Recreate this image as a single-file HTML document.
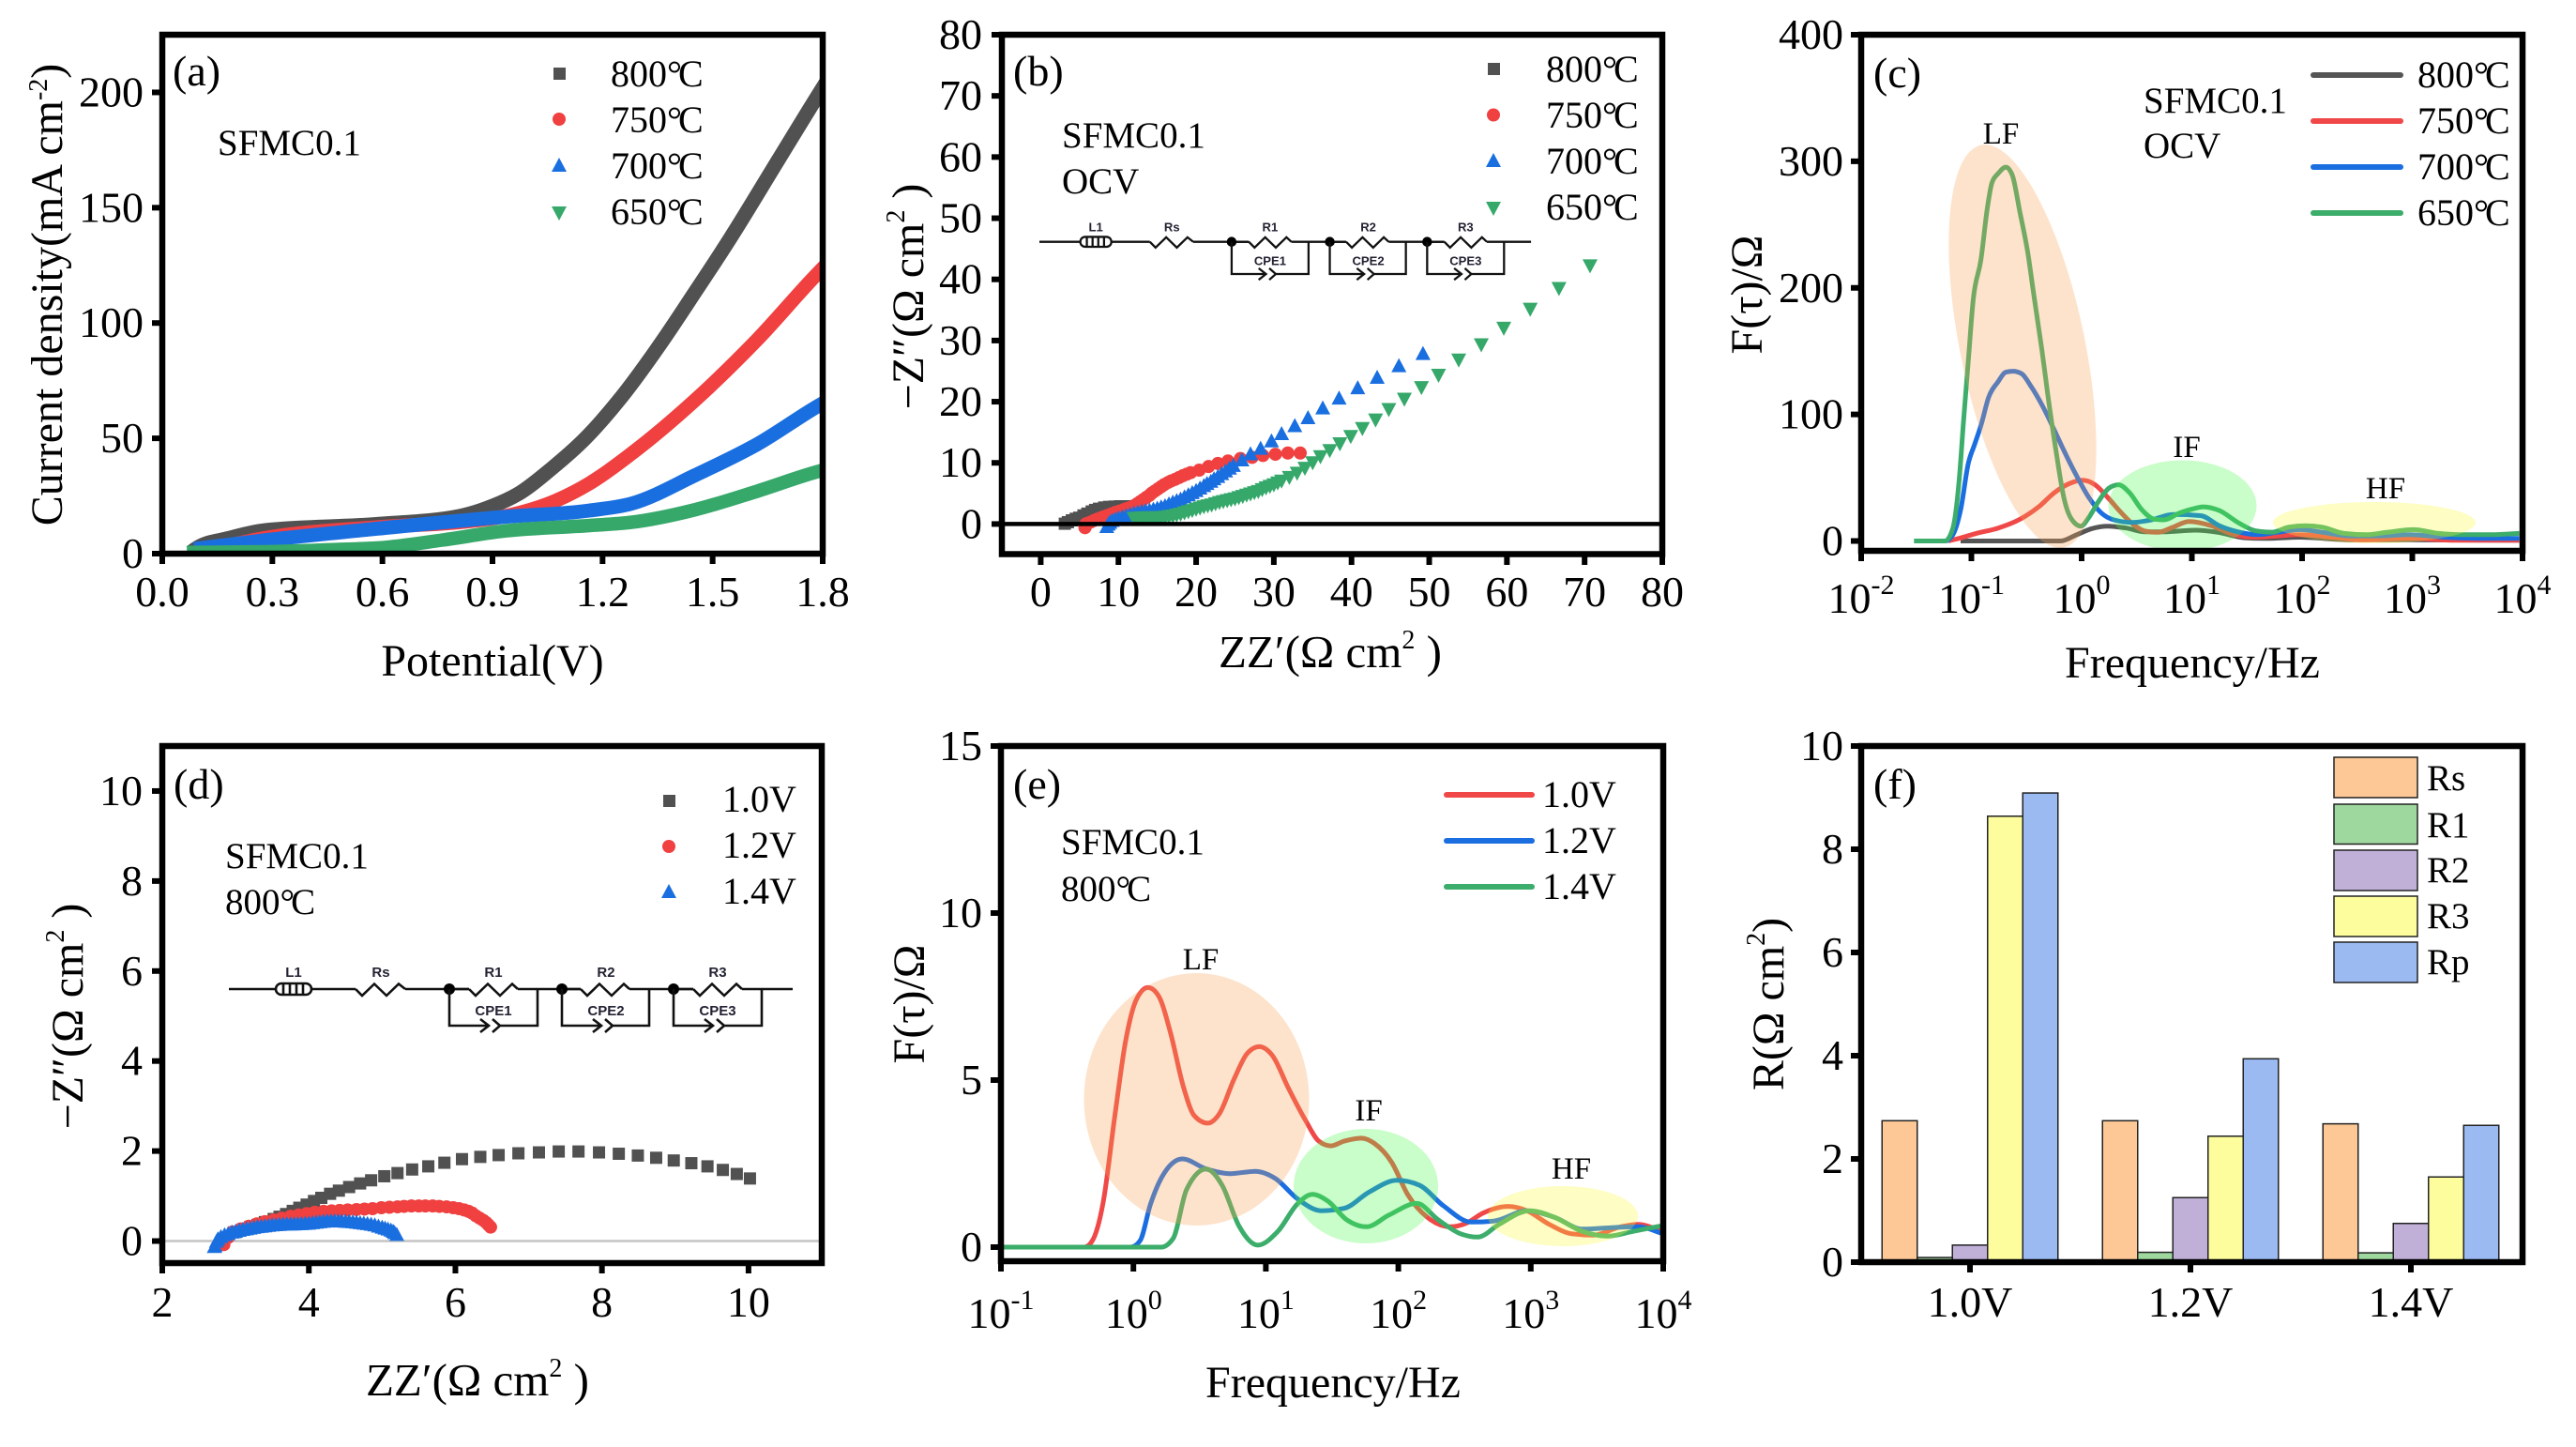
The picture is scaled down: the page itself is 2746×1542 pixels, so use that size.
<!DOCTYPE html>
<html lang="en">
<head>
<meta charset="utf-8">
<title>SFMC0.1 electrochemical characterization</title>
<style>
html,body{margin:0;padding:0;background:#fff;}
svg{display:block;}
text{font-family:"Liberation Serif","Noto Serif CJK SC",serif;fill:#000;}
.tick{font-size:46px;}
.title{font-size:48px;}
.title2{font-size:49px;}
.plabel{font-size:46px;}
.note{font-size:39px;}
.leg{font-size:40px;}
.band{font-size:33px;}
.cl{font-family:"Liberation Sans",sans-serif;font-size:15px;fill:#223;text-anchor:middle;font-weight:bold;}
.wire{fill:none;stroke:#111;stroke-width:2.6;}
.frame{fill:none;stroke:#000;stroke-width:6.5;}
</style>
</head>
<body>
<svg id="fig" xmlns="http://www.w3.org/2000/svg" width="2746" height="1542" viewBox="0 0 2746 1542">
<defs>
<clipPath id="clip-a"><rect x="173" y="37" width="704" height="553"/></clipPath>
<clipPath id="clip-c"><rect x="1984" y="37" width="705" height="550"/></clipPath>
<clipPath id="clip-e"><rect x="1067" y="795" width="706" height="549"/></clipPath>
</defs>
<rect width="2746" height="1542" fill="#fff"/>

<!-- Panel a -->
<g>
<g id="a-marks" clip-path="url(#clip-a)"></g>
<rect class="frame" x="173" y="37" width="704" height="553"/>
<g id="a-axes"></g>
<text class="plabel" x="184" y="91">(a)</text>
<text class="note" x="232" y="165">SFMC0.1</text>
<g>
<rect x="590" y="72" width="13" height="13" fill="#515151"/>
<circle cx="596" cy="127" r="7" fill="#f04040"/>
<polygon points="588,183 604,183 596,168" fill="#1a6fe0"/>
<polygon points="588,220 604,220 596,235" fill="#35a86a"/>
<text class="leg" x="651" y="92">800<tspan letter-spacing="-4">°</tspan>C</text>
<text class="leg" x="651" y="141">750<tspan letter-spacing="-4">°</tspan>C</text>
<text class="leg" x="651" y="190">700<tspan letter-spacing="-4">°</tspan>C</text>
<text class="leg" x="651" y="239">650<tspan letter-spacing="-4">°</tspan>C</text>
</g>
<text class="title" x="525" y="720" text-anchor="middle">Potential(V)</text>
<text class="title" transform="translate(66,314) rotate(-90)" text-anchor="middle">Current density(mA cm<tspan dy="-16" font-size="28">-2</tspan><tspan dy="16">)</tspan></text>
</g>

<!-- Panel b -->
<g>
<g id="b-marks"></g>
<line x1="1068" x2="1772" y1="558.4" y2="558.4" stroke="#000" stroke-width="4.5"/>
<rect class="frame" x="1068" y="37" width="704" height="553.5"/>
<g id="b-axes"></g>
<text class="plabel" x="1080" y="91">(b)</text>
<text class="note" x="1132" y="157">SFMC0.1</text>
<text class="note" x="1132" y="206">OCV</text>
<g>
<rect x="1586" y="67" width="13" height="13" fill="#515151"/>
<circle cx="1592" cy="122.5" r="7" fill="#f04040"/>
<polygon points="1584,178 1600,178 1592,163" fill="#1a6fe0"/>
<polygon points="1584,215 1600,215 1592,230" fill="#35a86a"/>
<text class="leg" x="1648" y="87">800<tspan letter-spacing="-4">°</tspan>C</text>
<text class="leg" x="1648" y="136">750<tspan letter-spacing="-4">°</tspan>C</text>
<text class="leg" x="1648" y="185">700<tspan letter-spacing="-4">°</tspan>C</text>
<text class="leg" x="1648" y="234">650<tspan letter-spacing="-4">°</tspan>C</text>
</g>
<g transform="translate(1108,257.7) scale(0.872,0.88)">
<path class="wire" d="M0 0H50M88 0H135M188 0H256M308 0H375M427 0H495M547 0H601"/>
<rect class="wire" x="50" y="-6" width="38" height="12" rx="6"/>
<path class="wire" d="M58 -6V6M65 -6V6M72 -6V6M79 -6V6"/>
<text class="cl" x="69" y="-13">L1</text>
<polyline class="wire" points="135,0 142,7 155,-5.5 168,7 181,-5.5 188,0"/>
<text class="cl" x="162" y="-13">Rs</text>
<g transform="translate(235,0)">
<path class="wire" d="M0 0H21"/>
<circle r="6" fill="#000"/>
<polyline class="wire" points="21,0 28,7 41,-5.5 54,7 67,-5.5 73,0"/>
<path class="wire" d="M0 0V39H42M33 32L42 39L33 46M46 32L54 39L46 46M54 39H94V0"/>
<text class="cl" x="47" y="-13">R1</text>
<text class="cl" x="47" y="28">CPE1</text>
</g>
<g transform="translate(355,0)">
<path class="wire" d="M0 0H20"/>
<circle r="6" fill="#000"/>
<polyline class="wire" points="20,0 27,7 40,-5.5 53,7 66,-5.5 72,0"/>
<path class="wire" d="M0 0V39H42M33 32L42 39L33 46M46 32L54 39L46 46M54 39H93V0"/>
<text class="cl" x="47" y="-13">R2</text>
<text class="cl" x="47" y="28">CPE2</text>
</g>
<g transform="translate(474,0)">
<path class="wire" d="M0 0H21"/>
<circle r="6" fill="#000"/>
<polyline class="wire" points="21,0 28,7 41,-5.5 54,7 67,-5.5 73,0"/>
<path class="wire" d="M0 0V39H42M33 32L42 39L33 46M46 32L54 39L46 46M54 39H94V0"/>
<text class="cl" x="47" y="-13">R3</text>
<text class="cl" x="47" y="28">CPE3</text>
</g>
</g>
<text class="title2" x="1418" y="711" text-anchor="middle">ZZ′(Ω cm<tspan dy="-20" font-size="28">2</tspan><tspan dy="20"> )</tspan></text>
<text class="title" transform="translate(984,316) rotate(-90)" text-anchor="middle">−Z″(Ω cm<tspan dy="-20" font-size="28">2</tspan><tspan dy="20"> )</tspan></text>
</g>

<!-- Panel c -->
<g>
<g clip-path="url(#clip-c)">
<g id="c-marks"></g>
<ellipse cx="2156" cy="369" rx="66.5" ry="219" transform="rotate(-11.6 2156 369)" fill="rgb(248,162,85)" fill-opacity="0.3"/>
<ellipse cx="2326.5" cy="539" rx="79" ry="48.5" fill="rgb(75,248,75)" fill-opacity="0.3"/>
<ellipse cx="2531" cy="557" rx="108" ry="22" fill="rgb(248,248,58)" fill-opacity="0.3"/>
</g>
<rect class="frame" x="1984" y="37" width="705" height="550"/>
<g id="c-axes"></g>
<text class="plabel" x="1997" y="93">(c)</text>
<text class="note" x="2285" y="120">SFMC0.1</text>
<text class="note" x="2285" y="168">OCV</text>
<text class="band" x="2133" y="153" text-anchor="middle">LF</text>
<text class="band" x="2331" y="487" text-anchor="middle">IF</text>
<text class="band" x="2543" y="531" text-anchor="middle">HF</text>
<g>
<line x1="2466" x2="2559" y1="80" y2="80" stroke="#555" stroke-width="6" stroke-linecap="round"/>
<line x1="2466" x2="2559" y1="129" y2="129" stroke="#f04848" stroke-width="6" stroke-linecap="round"/>
<line x1="2466" x2="2559" y1="178" y2="178" stroke="#1a6ee0" stroke-width="6" stroke-linecap="round"/>
<line x1="2466" x2="2559" y1="227" y2="227" stroke="#3cad6a" stroke-width="6" stroke-linecap="round"/>
<text class="leg" x="2577" y="93">800<tspan letter-spacing="-4">°</tspan>C</text>
<text class="leg" x="2577" y="142">750<tspan letter-spacing="-4">°</tspan>C</text>
<text class="leg" x="2577" y="191">700<tspan letter-spacing="-4">°</tspan>C</text>
<text class="leg" x="2577" y="240">650<tspan letter-spacing="-4">°</tspan>C</text>
</g>
<text class="title" x="2337" y="722" text-anchor="middle">Frequency/Hz</text>
<text class="title" transform="translate(1878,314) rotate(-90)" text-anchor="middle">F(τ)/Ω</text>
</g>

<!-- Panel d -->
<g>
<line x1="173" x2="876" y1="1322.5" y2="1322.5" stroke="#c4c4c4" stroke-width="2.5"/>
<g id="d-marks"></g>
<rect class="frame" x="173" y="795" width="703" height="551"/>
<g id="d-axes"></g>
<text class="plabel" x="185" y="851">(d)</text>
<text class="note" x="240" y="925">SFMC0.1</text>
<text class="note" x="240" y="974">800<tspan letter-spacing="-4">°</tspan>C</text>
<g>
<rect x="707" y="847" width="13" height="13" fill="#515151"/>
<circle cx="713" cy="902" r="7" fill="#f04040"/>
<polygon points="705,957 721,957 713,942" fill="#1a6fe0"/>
<text class="leg" x="770" y="865">1.0V</text>
<text class="leg" x="770" y="914">1.2V</text>
<text class="leg" x="770" y="963">1.4V</text>
</g>
<g transform="translate(244,1054)">
<path class="wire" d="M0 0H50M88 0H135M188 0H256M308 0H375M427 0H495M547 0H601"/>
<rect class="wire" x="50" y="-6" width="38" height="12" rx="6"/>
<path class="wire" d="M58 -6V6M65 -6V6M72 -6V6M79 -6V6"/>
<text class="cl" x="69" y="-13">L1</text>
<polyline class="wire" points="135,0 142,7 155,-5.5 168,7 181,-5.5 188,0"/>
<text class="cl" x="162" y="-13">Rs</text>
<g transform="translate(235,0)">
<path class="wire" d="M0 0H21"/>
<circle r="6" fill="#000"/>
<polyline class="wire" points="21,0 28,7 41,-5.5 54,7 67,-5.5 73,0"/>
<path class="wire" d="M0 0V39H42M33 32L42 39L33 46M46 32L54 39L46 46M54 39H94V0"/>
<text class="cl" x="47" y="-13">R1</text>
<text class="cl" x="47" y="28">CPE1</text>
</g>
<g transform="translate(355,0)">
<path class="wire" d="M0 0H20"/>
<circle r="6" fill="#000"/>
<polyline class="wire" points="20,0 27,7 40,-5.5 53,7 66,-5.5 72,0"/>
<path class="wire" d="M0 0V39H42M33 32L42 39L33 46M46 32L54 39L46 46M54 39H93V0"/>
<text class="cl" x="47" y="-13">R2</text>
<text class="cl" x="47" y="28">CPE2</text>
</g>
<g transform="translate(474,0)">
<path class="wire" d="M0 0H21"/>
<circle r="6" fill="#000"/>
<polyline class="wire" points="21,0 28,7 41,-5.5 54,7 67,-5.5 73,0"/>
<path class="wire" d="M0 0V39H42M33 32L42 39L33 46M46 32L54 39L46 46M54 39H94V0"/>
<text class="cl" x="47" y="-13">R3</text>
<text class="cl" x="47" y="28">CPE3</text>
</g>
</g>
<text class="title2" x="509" y="1487" text-anchor="middle">ZZ′(Ω cm<tspan dy="-20" font-size="28">2</tspan><tspan dy="20"> )</tspan></text>
<text class="title" transform="translate(88,1083) rotate(-90)" text-anchor="middle">−Z″(Ω cm<tspan dy="-20" font-size="28">2</tspan><tspan dy="20"> )</tspan></text>
</g>

<!-- Panel e -->
<g>
<g clip-path="url(#clip-e)">
<g id="e-marks"></g>
<ellipse cx="1275.5" cy="1171.5" rx="120" ry="134.5" fill="rgb(248,162,85)" fill-opacity="0.3"/>
<ellipse cx="1456" cy="1264" rx="77" ry="61" fill="rgb(75,248,75)" fill-opacity="0.3"/>
<ellipse cx="1666" cy="1296" rx="80" ry="32" fill="rgb(248,248,58)" fill-opacity="0.3"/>
</g>
<rect class="frame" x="1067" y="795" width="706" height="549"/>
<g id="e-axes"></g>
<text class="plabel" x="1080" y="851">(e)</text>
<text class="note" x="1131" y="910">SFMC0.1</text>
<text class="note" x="1131" y="960">800<tspan letter-spacing="-4">°</tspan>C</text>
<text class="band" x="1280" y="1033" text-anchor="middle">LF</text>
<text class="band" x="1459" y="1194" text-anchor="middle">IF</text>
<text class="band" x="1675" y="1256" text-anchor="middle">HF</text>
<g>
<line x1="1542" x2="1633" y1="847" y2="847" stroke="#f04848" stroke-width="6" stroke-linecap="round"/>
<line x1="1542" x2="1633" y1="896" y2="896" stroke="#1a6ee0" stroke-width="6" stroke-linecap="round"/>
<line x1="1542" x2="1633" y1="945" y2="945" stroke="#3cad6a" stroke-width="6" stroke-linecap="round"/>
<text class="leg" x="1644" y="860">1.0V</text>
<text class="leg" x="1644" y="909">1.2V</text>
<text class="leg" x="1644" y="958">1.4V</text>
</g>
<text class="title" x="1421" y="1489" text-anchor="middle">Frequency/Hz</text>
<text class="title" transform="translate(985,1070) rotate(-90)" text-anchor="middle">F(τ)/Ω</text>
</g>

<!-- Panel f -->
<g>
<g id="f-marks"></g>
<rect class="frame" x="1984" y="795" width="705" height="550"/>
<g id="f-axes"></g>
<text class="plabel" x="1997" y="851">(f)</text>
<g stroke="#222" stroke-width="1.5">
<rect x="2488" y="807" width="89" height="43" fill="#fdc896"/>
<rect x="2488" y="857" width="89" height="42.5" fill="#9fd89f"/>
<rect x="2488" y="906" width="89" height="43" fill="#c0b0d8"/>
<rect x="2488" y="955" width="89" height="43" fill="#fdfd9e"/>
<rect x="2488" y="1004" width="89" height="43" fill="#9bbaf2"/>
</g>
<text class="note" x="2587" y="842">Rs</text>
<text class="note" x="2587" y="892">R1</text>
<text class="note" x="2587" y="940">R2</text>
<text class="note" x="2587" y="989">R3</text>
<text class="note" x="2587" y="1038">Rp</text>
<text class="title" transform="translate(1901,1070) rotate(-90)" text-anchor="middle">R(Ω cm<tspan dy="-20" font-size="28">2</tspan><tspan dy="20">)</tspan></text>
</g>
</svg>

<script>
// ---- Panel a data: potential (V), current density (mA cm-2)
const aV800 = [0.077,0.097,0.179,0.281,0.591,0.809,0.901,0.969,1.061,1.153,1.244,1.373,1.44,1.549,1.68,1.8,1.82];
const aJ800 = [0.5,2.7,6.6,10.1,12.8,16.2,20.7,25.8,36.9,50,66.4,94.5,110.5,137,171,202,207];
const aV750 = [0.097,0.155,0.281,0.591,0.82,0.936,1.073,1.165,1.279,1.451,1.622,1.789,1.82];
const aJ750 = [1,2.7,6.8,11.5,13.8,16.3,23,30.5,43.4,66.4,92.9,122,127];
const aV700 = [0.087,0.281,0.591,0.936,1.165,1.279,1.451,1.622,1.789,1.82];
const aJ700 = [2,5.8,10.9,16,18.7,21.7,33.9,47.5,64.2,67];
const aV650 = [0.067,0.281,0.475,0.591,0.764,0.936,1.165,1.279,1.451,1.622,1.789,1.82];
const aJ650 = [0.5,0.8,1.8,2.5,5.9,9.9,12.2,13.6,19,27.1,35.7,37];
const aXTicks = [0,0.3,0.6,0.9,1.2,1.5,1.8];
const aXLabels = ["0.0","0.3","0.6","0.9","1.2","1.5","1.8"];
const aYTicks = [0,50,100,150,200];

// ---- Panel b data: Z' and -Z''
const bX800 = [3.1,3.5,4,4.5,4.95,5.5,6,6.56,7,7.5,8.17,8.8,9.5,10.2,10.8,11.4];
const bY800 = [0.05,0.3,0.6,0.85,1.03,1.4,1.7,2.05,2.3,2.5,2.7,2.8,2.85,2.9,2.9,2.9];
const bX750 = [33.4,31.8,30.2,28.6,27.2,25.7,24.1,22.8,21.6,20.4,19.3,18.8,18.3,17.8,17.3,16.8,16.4,15.9,15.5,15.1,14.7,14.3,14,13.6,13.2,12.8,12.4,12,11.5,11,10.6,10.1,9.6,9.1,8.6,8.1,7.6,7.2,6.8,6.4,6,5.8,5.7,5.7];
const bY750 = [11.6,11.6,11.4,11.2,10.9,10.7,10.3,9.9,9.4,8.8,8.4,8.15,7.9,7.6,7.3,7.05,6.8,6.45,6.1,5.75,5.4,5.05,4.7,4.35,4,3.65,3.3,3,2.7,2.5,2.3,2.1,1.9,1.65,1.4,1.2,0.95,0.75,0.55,0.3,0.1,0,-0.3,-0.6];
const bX700 = [49.2,46.1,43.3,40.8,38.4,36.3,34.4,32.7,31,29.7,28.3,27,25.9,24.8,24.3,23.8,23.3,22.8,22.3,21.9,21.4,21,20.5,20,19.5,19,18.5,18,17.5,17,16.5,16,15.5,15,14.5,14,13.5,13,12.5,12,11.5,11,10.5,10,9.6,9.2,8.9,8.7,8.5];
const bY700 = [27.9,25.9,24,22.3,20.6,19,17.4,16.1,14.8,13.6,12.4,11.5,10.5,9.6,9.15,8.7,8.25,7.8,7.4,7,6.65,6.3,5.9,5.5,5.15,4.8,4.45,4.1,3.85,3.6,3.3,3,2.8,2.6,2.45,2.3,2.2,2.1,1.95,1.8,1.6,1.4,1.2,1,0.8,0.6,0.3,0,-0.4];
const bX650 = [70.7,66.7,63,59.6,56.7,53.8,51.2,49,46.8,44.8,43.1,41.4,39.9,38.5,37.2,36,35,34,33,32,31,30.5,30,29.5,29,28.5,28,27.5,27,26.5,26,25.5,25,24.5,24,23.5,23,22.5,22,21.5,21,20.5,20,19.5,19,18.5,18,17.5,17,16.5,16,15.5,15,14.5,14,13.5,13,12.5,12];
const bY650 = [42.2,38.5,35.1,32,29.3,26.8,24.3,22.3,20.4,18.7,17,15.6,14.3,13.1,12,11,10,9.1,8.3,7.6,7,6.7,6.4,6.15,5.9,5.6,5.3,5.1,4.9,4.7,4.5,4.3,4.1,3.95,3.8,3.65,3.5,3.3,3.1,2.95,2.8,2.6,2.4,2.2,2,1.8,1.6,1.45,1.3,1.2,1.1,1.05,1,1,1,1,1,0.95,0.9];
const bXTicks = [0,10,20,30,40,50,60,70,80];
const bYTicks = [0,10,20,30,40,50,60,70,80];

// ---- Panel c data: log10(frequency), F(tau)
const cLog800 = [-1.098,-0.19,-0.048,0.094,0.236,0.406,0.576,0.746,1.03,1.23,1.48,1.68,1.98,2.43,2.98,3.97];
const cVal800 = [0,0,4.8,9.8,11.7,10.2,7.2,7.2,8.5,7,2.5,2,3,1,1,0.5];
const cLog750 = [-1.211,-1.098,-0.956,-0.757,-0.559,-0.389,-0.247,-0.105,0.009,0.122,0.236,0.349,0.462,0.576,0.689,0.831,0.973,1.18,1.38,1.58,1.78,1.98,2.28,2.53,2.98,3.39,3.97];
const cVal750 = [0,2.4,6,10.2,17.2,27,38.2,45.6,48,44.4,34.5,23.3,13.5,7.8,6.8,11,15.4,12,5,3,4,5,3,1,2,0.5,0.5];
const cLog700 = [-1.52,-1.24,-1.169,-1.098,-1.027,-0.97,-0.913,-0.843,-0.757,-0.687,-0.621,-0.545,-0.46,-0.36,-0.261,-0.162,-0.048,0.065,0.179,0.292,0.462,0.632,0.831,1.08,1.25,1.43,1.6,1.78,1.98,2.18,2.43,2.68,2.98,3.29,3.69,3.97];
const cVal700 = [0,0,4.8,24.6,61.7,76.5,91.4,113.6,126,133.4,134.1,132.2,122.3,107.5,90.1,71.6,51.8,34.5,22.1,16.7,14.7,16.7,20.9,20,12,7,5,7,9,7,4,4,5,3,2,2];
const cLog650 = [-1.52,-1.24,-1.169,-1.112,-1.07,-1.027,-0.984,-0.913,-0.857,-0.814,-0.757,-0.687,-0.63,-0.559,-0.488,-0.431,-0.36,-0.304,-0.233,-0.162,-0.091,-0.006,0.065,0.15,0.25,0.335,0.434,0.547,0.661,0.746,0.888,1.03,1.1,1.25,1.43,1.58,1.73,1.88,2.03,2.18,2.38,2.58,2.78,3.01,3.24,3.44,3.69,3.97];
const cVal650 = [0,0,9.8,46.9,96.3,143.3,190.3,222.4,262,283,290.4,295.4,289.2,259.5,227.4,192.7,150.7,113.6,71.6,34.5,17.2,11.7,18.5,30.8,41.9,44.4,38.2,24.6,17.2,16.7,22.1,25.8,27,24,14,8,7,11,12,11,6,5,7,9,6,5,5,6];
const cXExps = [-2,-1,0,1,2,3,4];
const cYTicks = [0,100,200,300,400];

// ---- Panel d data: Z' and -Z''
const dX10 = [10.02,9.84,9.65,9.44,9.22,8.98,8.74,8.49,8.23,7.96,7.68,7.41,7.14,6.86,6.59,6.34,6.09,5.85,5.63,5.41,5.21,5.03,4.85,4.7,4.55,4.41,4.29,4.17,4.07,3.97,3.87,3.78,3.69,3.6,3.52,3.4,3.3,3.2,3.1,3.0];
const dY10 = [1.39,1.49,1.58,1.66,1.73,1.79,1.85,1.9,1.94,1.97,1.99,1.99,1.97,1.95,1.91,1.87,1.82,1.74,1.66,1.59,1.51,1.44,1.35,1.28,1.2,1.12,1.05,0.96,0.89,0.81,0.74,0.67,0.6,0.54,0.49,0.42,0.36,0.31,0.25,0.2];
const dX12 = [6.48,6.45,6.42,6.38,6.33,6.28,6.23,6.18,6.12,6.05,5.97,5.88,5.78,5.69,5.59,5.5,5.4,5.3,5.21,5.1,4.99,4.87,4.76,4.65,4.53,4.42,4.31,4.2,4.08,3.97,3.86,3.75,3.63,3.52,3.4,3.29,3.18,3.07,2.96,2.9,2.84];
const dY12 = [0.31,0.36,0.41,0.46,0.51,0.56,0.62,0.66,0.69,0.72,0.74,0.76,0.77,0.78,0.78,0.78,0.78,0.77,0.76,0.75,0.74,0.72,0.71,0.7,0.69,0.68,0.67,0.66,0.64,0.61,0.58,0.55,0.51,0.47,0.43,0.38,0.33,0.27,0.2,0.08,-0.08];
const dX14 = [5.2,5.17,5.15,5.12,5.08,5.04,5,4.95,4.9,4.85,4.8,4.75,4.7,4.65,4.6,4.55,4.5,4.45,4.4,4.35,4.3,4.25,4.2,4.15,4.1,4.05,4,3.95,3.9,3.85,3.8,3.75,3.7,3.65,3.6,3.55,3.5,3.45,3.4,3.35,3.3,3.25,3.2,3.15,3.1,3.05,3,2.95,2.9,2.85,2.8,2.76,2.74,2.72,2.71];
const dY14 = [0.15,0.19,0.22,0.245,0.27,0.29,0.31,0.335,0.36,0.375,0.39,0.4,0.41,0.42,0.43,0.435,0.44,0.445,0.45,0.45,0.45,0.445,0.44,0.43,0.42,0.41,0.4,0.395,0.39,0.385,0.38,0.38,0.38,0.375,0.37,0.365,0.36,0.35,0.34,0.33,0.32,0.305,0.29,0.275,0.26,0.24,0.22,0.2,0.17,0.14,0.1,0.05,0,-0.1,-0.12];
const dXTicks = [2,4,6,8,10];
const dYTicks = [0,2,4,6,8,10];

// ---- Panel e data: log10(frequency), F(tau)
const eLog10 = [-1,-0.37,-0.31,-0.23,-0.14,-0.06,0.02,0.11,0.19,0.28,0.38,0.46,0.56,0.65,0.76,0.86,0.95,1.05,1.17,1.3,1.4,1.49,1.59,1.72,1.82,1.95,2.07,2.22,2.39,2.51,2.64,2.83,2.97,3.14,3.31,3.47,3.68,3.81,4];
const eVal10 = [0,0,0.19,1.3,3.93,6.14,7.39,7.77,7.52,6.42,4.76,3.93,3.71,4.0,5.03,5.8,6.0,5.73,4.76,3.79,3.17,3.03,3.17,3.26,3.1,2.54,1.58,0.89,0.61,0.71,1.02,1.22,1.09,0.68,0.4,0.36,0.61,0.68,0.47];
const eLog12 = [-1,-0.02,0.05,0.13,0.23,0.37,0.55,0.73,0.92,1.07,1.24,1.42,1.59,1.78,1.99,2.16,2.34,2.55,2.72,2.97,3.18,3.39,3.6,3.81,4];
const eVal12 = [0,0,0.19,1.3,2.2,2.64,2.34,2.2,2.27,2.06,1.44,1.09,1.16,1.65,2.0,1.85,1.24,0.75,0.78,1.09,0.89,0.54,0.58,0.61,0.4];
const eLog14 = [-1,0.21,0.3,0.4,0.55,0.67,0.8,0.94,1.09,1.24,1.35,1.47,1.61,1.76,1.93,2.14,2.3,2.47,2.6,2.76,2.99,3.18,3.39,3.58,3.77,4];
const eVal14 = [0,0,0.26,1.71,2.34,1.85,0.61,0.06,0.47,1.3,1.58,1.37,0.82,0.61,0.96,1.31,0.82,0.4,0.3,0.68,1.09,0.89,0.47,0.33,0.47,0.65];
const eXExps = [-1,0,1,2,3,4];
const eYTicks = [0,5,10,15];

// ---- Panel f data: resistances
const fCategories = ["1.0V","1.2V","1.4V"];
const fRs = [2.74,2.74,2.68];
const fR1 = [0.09,0.19,0.18];
const fR2 = [0.33,1.25,0.75];
const fR3 = [8.64,2.44,1.65];
const fRp = [9.09,3.94,2.65];
const fYTicks = [0,2,4,6,8,10];

const NS = "http://www.w3.org/2000/svg";
const COL = {gray:"#515151", red:"#f04040", blue:"#1a6fe0", green:"#35a86a"};

function mk(tag, attrs, name, parent) {
  const el = document.createElementNS(NS, tag);
  for (const k in attrs) el.setAttribute(k, attrs[k]);
  
  
  parent.appendChild(el);
  return el;
}
function scale(d0, d1, r0, r1) {
  return v => r0 + (v - d0) * (r1 - r0) / (d1 - d0);
}
// Steffen monotone cubic: no overshoot on flat runs, keeps sharp DRT rises smooth
function smoothPath(xs, ys) {
  const n = xs.length, m = new Array(n).fill(0), h = [], s = [];
  for (let i = 0; i < n - 1; i++) { h[i] = xs[i + 1] - xs[i]; s[i] = (ys[i + 1] - ys[i]) / h[i]; }
  for (let i = 1; i < n - 1; i++) {
    const p = (s[i - 1] * h[i] + s[i] * h[i - 1]) / (h[i - 1] + h[i]);
    m[i] = (Math.sign(s[i - 1]) + Math.sign(s[i])) * Math.min(Math.abs(s[i - 1]), Math.abs(s[i]), 0.5 * Math.abs(p));
  }
  m[0] = s[0];
  m[n - 1] = s[n - 2];
  let d = "M" + xs[0].toFixed(1) + " " + ys[0].toFixed(1);
  for (let i = 0; i < n - 1; i++) {
    const c1x = xs[i] + h[i] / 3, c1y = ys[i] + m[i] * h[i] / 3;
    const c2x = xs[i + 1] - h[i] / 3, c2y = ys[i + 1] - m[i + 1] * h[i] / 3;
    d += "C" + c1x.toFixed(1) + " " + c1y.toFixed(1) + " " + c2x.toFixed(1) + " " + c2y.toFixed(1) + " " + xs[i + 1].toFixed(1) + " " + ys[i + 1].toFixed(1);
  }
  return d;
}
function curve(parent, X, Y, xv, yv, color, width, name) {
  mk("path", {d: smoothPath(xv.map(X), yv.map(Y)), fill: "none", stroke: color, "stroke-width": width, "stroke-linejoin": "round"}, name, parent);
}
function marker(parent, kind, x, y, color, name) {
  if (kind === "square") {
    mk("rect", {x: x - 6.5, y: y - 6.5, width: 13, height: 13, fill: color}, name, parent);
  } else if (kind === "circle") {
    mk("circle", {cx: x, cy: y, r: 7, fill: color}, name, parent);
  } else if (kind === "up") {
    mk("polygon", {points: (x - 8) + "," + (y + 7) + " " + (x + 8) + "," + (y + 7) + " " + x + "," + (y - 8), fill: color}, name, parent);
  } else {
    mk("polygon", {points: (x - 8) + "," + (y - 7) + " " + (x + 8) + "," + (y - 7) + " " + x + "," + (y + 8), fill: color}, name, parent);
  }
}
function scatter(parent, X, Y, xv, yv, kind, color, name) {
  for (let i = 0; i < xv.length; i++) marker(parent, kind, X(xv[i]), Y(yv[i]), color, name);
}
function yAxis(g, Y, ticks, frameX, labelX) {
  ticks.forEach(t => {
    mk("line", {x1: frameX, x2: frameX - 11, y1: Y(t), y2: Y(t), stroke: "#000", "stroke-width": 6}, "y-tick", g);
    const el = mk("text", {class: "tick", x: labelX, y: Y(t) + 15, "text-anchor": "end"}, "y-tick-label", g);
    el.textContent = String(t);
  });
}
function xAxis(g, X, ticks, labels, frameY, baseY) {
  ticks.forEach((t, i) => {
    mk("line", {x1: X(t), x2: X(t), y1: frameY, y2: frameY + 11, stroke: "#000", "stroke-width": 6}, "x-tick", g);
    const el = mk("text", {class: "tick", x: X(t), y: baseY, "text-anchor": "middle"}, "x-tick-label", g);
    el.textContent = String(labels[i]);
  });
}
function xLogAxis(g, X, exps, frameY, baseY) {
  exps.forEach(e => {
    mk("line", {x1: X(e), x2: X(e), y1: frameY, y2: frameY + 11, stroke: "#000", "stroke-width": 6}, "x-tick", g);
    const el = mk("text", {class: "tick", x: X(e), y: baseY, "text-anchor": "middle"}, "x-tick-label", g);
    el.textContent = "10";
    const sup = mk("tspan", {dy: -20, "font-size": 30}, "x-tick-exponent", el);
    sup.textContent = String(e);
  });
}
const $ = id => document.getElementById(id);

// Panel a
(function () {
  const X = scale(0, 1.8, 173, 877), Y = scale(0, 225, 590, 37);
  const m = $("a-marks");
  curve(m, X, Y, aV800, aJ800, COL.gray, 15.5, "series-800");
  curve(m, X, Y, aV750, aJ750, COL.red, 15, "series-750");
  curve(m, X, Y, aV700, aJ700, COL.blue, 15, "series-700");
  curve(m, X, Y, aV650, aJ650, COL.green, 14.5, "series-650");
  const g = $("a-axes");
  yAxis(g, Y, aYTicks, 173, 153);
  xAxis(g, X, aXTicks, aXLabels, 590, 646);
})();

// Panel b
(function () {
  const X = scale(-5, 80, 1068, 1772), Y = scale(-5, 80, 591, 37);
  const m = $("b-marks");
  scatter(m, X, Y, bX800, bY800, "square", COL.gray, "point-800");
  scatter(m, X, Y, bX750, bY750, "circle", COL.red, "point-750");
  scatter(m, X, Y, bX700, bY700, "up", COL.blue, "point-700");
  scatter(m, X, Y, bX650, bY650, "down", COL.green, "point-650");
  const g = $("b-axes");
  yAxis(g, Y, bYTicks, 1068, 1047);
  xAxis(g, X, bXTicks, bXTicks, 591, 646);
})();

// Panel c
(function () {
  const X = scale(-2, 4, 1984, 2689), Y = scale(0, 400, 576.5, 37);
  const m = $("c-marks");
  curve(m, X, Y, cLog800, cVal800, "#555", 5, "series-800");
  curve(m, X, Y, cLog750, cVal750, "#f04848", 5, "series-750");
  curve(m, X, Y, cLog700, cVal700, "#1a6ee0", 5, "series-700");
  curve(m, X, Y, cLog650, cVal650, "#3cad6a", 5, "series-650");
  const g = $("c-axes");
  yAxis(g, Y, cYTicks, 1984, 1965);
  xLogAxis(g, X, cXExps, 587, 653);
})();

// Panel d
(function () {
  const X = scale(2, 11, 173, 876), Y = scale(-0.5, 11, 1346.5, 795);
  const m = $("d-marks");
  scatter(m, X, Y, dX10, dY10, "square", COL.gray, "point-1v0");
  scatter(m, X, Y, dX12, dY12, "circle", COL.red, "point-1v2");
  scatter(m, X, Y, dX14, dY14, "up", COL.blue, "point-1v4");
  const g = $("d-axes");
  yAxis(g, Y, dYTicks, 173, 152);
  xAxis(g, X, dXTicks, dXTicks, 1346, 1403);
})();

// Panel e
(function () {
  const X = scale(-1, 4, 1067, 1773), Y = scale(0, 15, 1329, 795);
  const m = $("e-marks");
  curve(m, X, Y, eLog10, eVal10, "#f04848", 5, "series-1v0");
  curve(m, X, Y, eLog12, eVal12, "#1a6ee0", 5, "series-1v2");
  curve(m, X, Y, eLog14, eVal14, "#3cad6a", 5, "series-1v4");
  const g = $("e-axes");
  yAxis(g, Y, eYTicks, 1067, 1047);
  xLogAxis(g, X, eXExps, 1344, 1415);
})();

// Panel f
(function () {
  const Y = scale(0, 10, 1345, 795);
  const groupX = scale(0, 2, 2100, 2570);
  const barW = 37.5;
  const series = [fRs, fR1, fR2, fR3, fRp];
  const colors = ["#fdc896", "#9fd89f", "#c0b0d8", "#fdfd9e", "#9bbaf2"];
  const names = ["bar-rs", "bar-r1", "bar-r2", "bar-r3", "bar-rp"];
  const m = $("f-marks");
  series.forEach((vals, s) => {
    vals.forEach((v, c) => {
      const x = groupX(c) + (s - 2.5) * barW;
      mk("rect", {x: x, y: Y(v), width: barW, height: Y(0) - Y(v), fill: colors[s], stroke: "#222", "stroke-width": 1.5}, names[s], m);
    });
  });
  const g = $("f-axes");
  yAxis(g, Y, fYTicks, 1984, 1965);
  fCategories.forEach((cat, c) => {
    mk("line", {x1: groupX(c), x2: groupX(c), y1: 1345, y2: 1356, stroke: "#000", "stroke-width": 6}, "x-tick", g);
    const el = mk("text", {class: "tick", x: groupX(c), y: 1403, "text-anchor": "middle"}, "x-tick-label", g);
    el.textContent = cat;
  });
})();
</script>
</body>
</html>
